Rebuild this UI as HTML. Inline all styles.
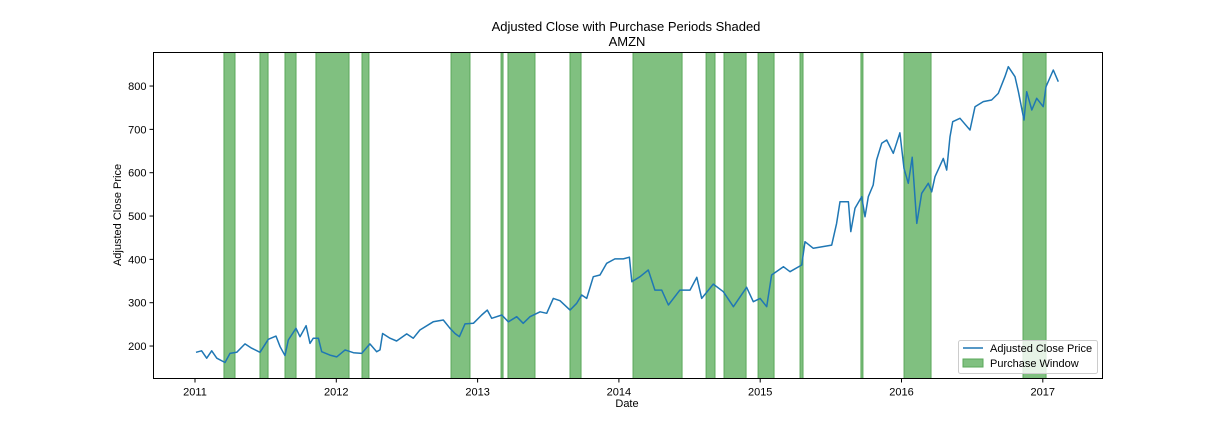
<!DOCTYPE html>
<html><head><meta charset="utf-8"><style>
body{margin:0;background:#fff;}
svg text{font-family:"Liberation Sans",sans-serif;fill:#000;}
</style></head><body>
<svg id="chart" width="1224" height="432" xmlns="http://www.w3.org/2000/svg">
<text x="626" y="31" font-size="13" text-anchor="middle">Adjusted Close with Purchase Periods Shaded</text>
<text x="627" y="46" font-size="13" text-anchor="middle">AMZN</text>
<g id="spans"></g>
<g id="line"></g>
<rect x="153.5" y="52.5" width="949" height="326" fill="none" stroke="#000" stroke-width="1"/>
<g id="xt"></g>
<g id="yt"></g>
<text x="627" y="407" font-size="11" text-anchor="middle">Date</text>
<text transform="translate(121,215) rotate(-90)" font-size="11" text-anchor="middle">Adjusted Close Price</text>
<g>
<rect x="958.5" y="340.5" width="139" height="33" rx="2" fill="#fff" fill-opacity="0.8" stroke="#ccc"/>
<line x1="963" y1="348" x2="983" y2="348" stroke="#1f77b4" stroke-width="1.5"/>
<text x="990" y="352" font-size="11">Adjusted Close Price</text>
<rect x="963" y="359" width="20" height="8" fill="#80c080" stroke="#5aa85a"/>
<text x="990" y="367" font-size="11">Purchase Window</text>
</g>
</svg>
<script>
const dates=[2011.007,2011.047,2011.083,2011.118,2011.154,2011.212,2011.248,2011.295,2011.354,2011.401,2011.46,2011.519,2011.573,2011.602,2011.637,2011.66,2011.715,2011.743,2011.786,2011.814,2011.837,2011.873,2011.897,2011.955,2012.003,2012.062,2012.121,2012.18,2012.238,2012.286,2012.309,2012.328,2012.38,2012.427,2012.498,2012.545,2012.592,2012.686,2012.757,2012.805,2012.84,2012.871,2012.911,2012.97,2013.029,2013.069,2013.1,2013.171,2013.217,2013.277,2013.323,2013.371,2013.442,2013.489,2013.536,2013.583,2013.654,2013.701,2013.737,2013.772,2013.819,2013.866,2013.914,2013.972,2014.031,2014.074,2014.091,2014.149,2014.208,2014.255,2014.303,2014.35,2014.432,2014.503,2014.551,2014.586,2014.668,2014.739,2014.81,2014.904,2014.951,2014.999,2015.046,2015.081,2015.164,2015.211,2015.294,2015.317,2015.376,2015.506,2015.541,2015.565,2015.624,2015.641,2015.671,2015.718,2015.742,2015.765,2015.8,2015.824,2015.86,2015.895,2015.942,2015.989,2016.018,2016.048,2016.076,2016.108,2016.143,2016.19,2016.214,2016.237,2016.296,2016.32,2016.343,2016.362,2016.414,2016.485,2016.52,2016.579,2016.638,2016.685,2016.732,2016.756,2016.803,2016.827,2016.867,2016.886,2016.922,2016.957,2017.003,2017.023,2017.074,2017.11];
const prices=[185.5,189,172,189,172,162,183,185.5,205,195,185.5,215.5,223,198.5,178,214,241,221.5,247,206,218,218,187,179,175,191,184.6,183,205,187,191,229,218,211.6,228,218,237,256,260,241,229,221.5,251,252.5,271.6,283,264,271.6,256,267.7,252.5,267.7,279,275.5,310,304.6,283,298.6,317.8,310,360,364,391,401,401,405,348.5,360,375.5,329,329,294.7,329,329,358.6,310,343,325.4,290.8,335.5,302.3,310,290.8,364,383,371.5,387,440.8,425.5,433,483,533,533,464,518,544.6,498.5,544.6,571.6,629.3,667.9,675.5,644.8,692,610,575.5,635.5,483,552.5,575.5,556,590.8,633,606,683,717.7,725.5,698.5,752,764,767.8,783,821.5,844.6,821.5,787,721.6,787,744.7,771.7,752.3,798.5,837,810];
const spanStarts=[2011.205,2011.46,2011.637,2011.856,2012.182,2012.812,2013.166,2013.215,2013.654,2014.1,2014.617,2014.744,2014.985,2015.282,2015.713,2016.018,2016.86];
const spanEnds=[2011.283,2011.517,2011.715,2012.09,2012.231,2012.946,2013.18,2013.406,2013.732,2014.447,2014.68,2014.9,2015.098,2015.303,2015.727,2016.209,2017.023];
const xTicks=[2011,2012,2013,2014,2015,2016,2017];
const yTicks=[200,300,400,500,600,700,800];
const NS="http://www.w3.org/2000/svg";
const X0=153.5,X1=1102.5,Y0=52.5,Y1=378.5;
function xs(t){return 195+(t-2011)*141.3;}
function ys(v){return 432.7-v*0.43333;}
function mk(tag,attrs,parent){const e=document.createElementNS(NS,tag);for(const k in attrs)e.setAttribute(k,attrs[k]);parent.appendChild(e);return e;}
const sg=document.getElementById('spans');
spanStarts.forEach((s,i)=>{
 const a=xs(s),b=xs(spanEnds[i]);
 const r=mk('rect',{x:a,y:Y0,width:Math.max(b-a,1),height:Y1-Y0,fill:'#80c080',stroke:'#5aa85a','stroke-width':1},sg);
 
 
});
const lg=document.getElementById('line');
const p=mk('polyline',{points:dates.map((d,i)=>xs(d).toFixed(1)+','+ys(prices[i]).toFixed(1)).join(' '),fill:'none',stroke:'#1f77b4','stroke-width':1.5,'stroke-linejoin':'round'},lg);


const xg=document.getElementById('xt');
xTicks.forEach(t=>{
 const x=xs(t);
 mk('line',{x1:x,x2:x,y1:Y1,y2:Y1+4,stroke:'#000'},xg);
 const tx=mk('text',{x:x,y:Y1+17,'font-size':11,'text-anchor':'middle'},xg);
 tx.textContent=t;
 
 
});
const yg=document.getElementById('yt');
yTicks.forEach(v=>{
 const y=ys(v);
 mk('line',{x1:X0-4,x2:X0,y1:y,y2:y,stroke:'#000'},yg);
 const tx=mk('text',{x:X0-7,y:y+4,'font-size':11,'text-anchor':'end'},yg);
 tx.textContent=v;
 
 
});
</script>
</body></html>
